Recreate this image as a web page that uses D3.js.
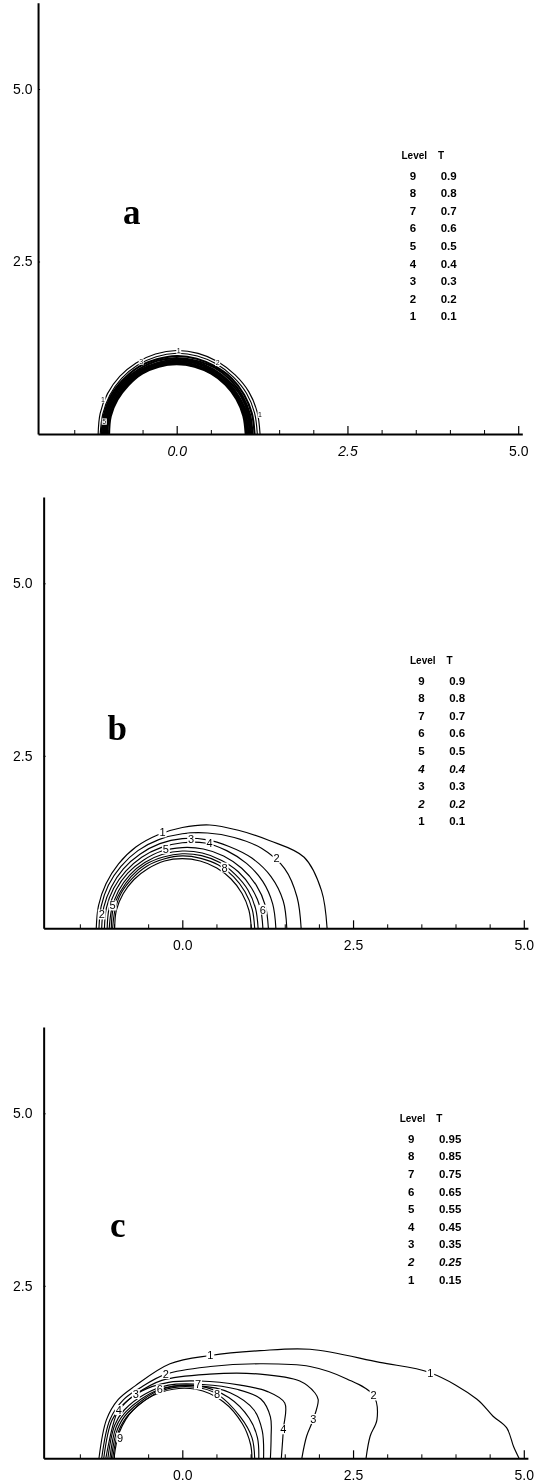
<!DOCTYPE html>
<html>
<head>
<meta charset="utf-8">
<script src="https://cdnjs.cloudflare.com/ajax/libs/d3/7.8.5/d3.min.js"></script>
<style>
  body { margin: 0; background: #ffffff; }
  svg { display: block; }
</style>
</head>
<body>
<div id="chart"></div>
<script>
// ---- data ----

// contour levels, 1 is the outermost
const levels = [1, 2, 3, 4, 5, 6, 7, 8, 9]
const tValuesA = [0.1, 0.2, 0.3, 0.4, 0.5, 0.6, 0.7, 0.8, 0.9]
const tValuesB = [0.1, 0.2, 0.3, 0.4, 0.5, 0.6, 0.7, 0.8, 0.9]
const tValuesC = [0.15, 0.25, 0.35, 0.45, 0.55, 0.65, 0.75, 0.85, 0.95]

// panels a and b: near circular contours, radius read at these angles (deg)
const angles = [0, 15, 30, 45, 60, 75, 90, 105, 120, 135, 150, 165, 180]

const radiiA = [
  [1.22, 1.22, 1.22, 1.21, 1.21, 1.21, 1.21, 1.20, 1.19, 1.18, 1.17, 1.16, 1.15],
  [1.18, 1.18, 1.18, 1.17, 1.17, 1.17, 1.17, 1.16, 1.15, 1.14, 1.13, 1.12, 1.12],
  [1.14, 1.14, 1.14, 1.14, 1.13, 1.13, 1.13, 1.12, 1.12, 1.11, 1.11, 1.10, 1.10],
  [1.11, 1.11, 1.11, 1.11, 1.11, 1.10, 1.10, 1.10, 1.09, 1.09, 1.09, 1.08, 1.08],
  [1.09, 1.09, 1.09, 1.08, 1.08, 1.08, 1.08, 1.07, 1.07, 1.07, 1.07, 1.06, 1.06],
  [1.07, 1.07, 1.06, 1.06, 1.06, 1.06, 1.06, 1.05, 1.05, 1.05, 1.05, 1.05, 1.04],
  [1.05, 1.05, 1.05, 1.04, 1.04, 1.04, 1.04, 1.04, 1.04, 1.03, 1.03, 1.03, 1.03],
  [1.03, 1.03, 1.03, 1.03, 1.02, 1.02, 1.02, 1.02, 1.02, 1.02, 1.02, 1.02, 1.02],
  [1.01, 1.01, 1.01, 1.01, 1.01, 1.01, 1.01, 1.01, 1.01, 1.00, 1.00, 1.00, 0.99]
]

const radiiB = [
  [2.12, 2.11, 2.06, 1.80, 1.64, 1.55, 1.46, 1.40, 1.36, 1.32, 1.29, 1.27, 1.26],
  [1.74, 1.74, 1.73, 1.64, 1.52, 1.43, 1.37, 1.33, 1.30, 1.27, 1.25, 1.23, 1.22],
  [1.53, 1.53, 1.50, 1.44, 1.37, 1.33, 1.30, 1.27, 1.24, 1.22, 1.20, 1.19, 1.18],
  [1.37, 1.37, 1.36, 1.33, 1.30, 1.28, 1.24, 1.21, 1.19, 1.17, 1.16, 1.15, 1.14],
  [1.26, 1.26, 1.25, 1.23, 1.21, 1.19, 1.17, 1.16, 1.14, 1.13, 1.12, 1.11, 1.10],
  [1.18, 1.18, 1.17, 1.16, 1.14, 1.13, 1.12, 1.11, 1.10, 1.09, 1.08, 1.07, 1.07],
  [1.11, 1.11, 1.11, 1.10, 1.10, 1.09, 1.08, 1.07, 1.07, 1.06, 1.05, 1.05, 1.04],
  [1.06, 1.06, 1.06, 1.06, 1.06, 1.05, 1.05, 1.04, 1.04, 1.03, 1.03, 1.02, 1.02],
  [1.01, 1.01, 1.01, 1.01, 1.01, 1.01, 1.01, 1.01, 1.00, 1.00, 1.00, 1.00, 0.99]
]

// panel c: contours as [x, y] points, left foot to right foot
const contoursC = [
  [[-1.22, 0], [-1.11, 0.56], [-0.94, 0.85], [-0.69, 1.05], [-0.18, 1.37], [0.41, 1.49], [1.14, 1.56], [1.87, 1.58],
   [2.89, 1.39], [3.63, 1.24], [4.31, 0.86], [4.55, 0.61], [4.75, 0.44], [4.85, 0.17], [4.93, 0]],
  [[-1.18, 0], [-1.06, 0.56], [-0.86, 0.85], [-0.62, 1.02], [-0.24, 1.22], [0.41, 1.33], [1.14, 1.37], [1.87, 1.33],
   [2.41, 1.15], [2.80, 0.91], [2.85, 0.56], [2.75, 0.32], [2.69, 0]],
  [[-1.15, 0], [-1.03, 0.55], [-0.84, 0.80], [-0.68, 0.93], [-0.30, 1.13], [0.40, 1.22], [1.14, 1.22], [1.72, 1.12],
   [1.94, 0.95], [1.99, 0.85], [1.92, 0.57], [1.82, 0.32], [1.75, 0]],
  [[-1.12, 0], [-1.01, 0.50], [-0.93, 0.70], [-0.60, 0.97], [-0.20, 1.10], [0.26, 1.12], [0.85, 1.06], [1.24, 0.97],
   [1.50, 0.80], [1.48, 0.42], [1.45, 0]],
  [[-1.09, 0], [-0.99, 0.48], [-0.85, 0.70], [-0.55, 0.93], [-0.20, 1.06], [0.30, 1.07], [0.80, 1.00], [1.15, 0.86],
   [1.29, 0.60], [1.30, 0.30], [1.29, 0]],
  [[-1.06, 0], [-0.97, 0.45], [-0.82, 0.68], [-0.33, 1.00], [0.25, 1.05], [0.70, 0.95], [1.05, 0.70], [1.17, 0.40], [1.19, 0]],
  [[-1.04, 0], [-0.95, 0.42], [-0.80, 0.66], [-0.30, 1.00], [0.23, 1.05], [0.68, 0.88], [0.98, 0.58], [1.10, 0.30], [1.12, 0]],
  [[-1.02, 0], [-0.93, 0.40], [-0.78, 0.64], [-0.30, 0.98], [0.20, 1.03], [0.51, 0.93], [0.85, 0.60], [1.02, 0.30], [1.06, 0]],
  [[-1.00, 0], [-0.92, 0.38], [-0.72, 0.70], [-0.30, 0.96], [0.20, 1.00], [0.60, 0.82], [0.88, 0.50], [1.00, 0.20], [1.02, 0]]
]

// inline contour labels: [level, x, y]
const labelsA = [[1, -1.08, 0.50], [5, -1.06, 0.18], [3, -0.52, 1.05], [1, 0.03, 1.21], [2, 0.60, 1.03], [1, 1.22, 0.28]]
const labelsB = [[1, -0.29, 1.39], [3, 0.13, 1.30], [4, 0.40, 1.23], [5, -0.24, 1.15], [2, 1.38, 1.02],
                 [8, 0.62, 0.88], [6, 1.18, 0.27], [2, -1.18, 0.20], [5, -1.02, 0.33]]
const labelsC = [[1, 0.41, 1.49], [1, 3.63, 1.24], [2, -0.24, 1.22], [2, 2.80, 0.91], [3, 1.92, 0.57], [4, 1.48, 0.42],
                 [3, -0.68, 0.93], [4, -0.93, 0.70], [6, -0.33, 1.00], [7, 0.23, 1.07], [8, 0.51, 0.93], [9, -0.91, 0.30]]

// axis ticks
const xMajor = [0, 2.5, 5]
const xMinor = [-1.5, -1, -0.5, 0.5, 1, 1.5, 2, 3, 3.5, 4, 4.5]
const yMajor = [2.5, 5]

// ---- layout ----
const W = 545, H = 1483
const ux = 68.3, uy = 69
const xDomain = [-2.03, 5.06], yDomain = [0, 6.25]
const font = "'Liberation Sans', Arial, sans-serif"

const panels = [
  {key: 'a', ox: 176.7, oy: 434, radii: radiiA, labels: labelsA, tValues: tValuesA, fmt: '.1f',
   legend: [401.5, 155], letter: [123, 224], labelSize: 7, strokeW: 2.1, italicRows: [], italicX: [0, 2.5]},
  {key: 'b', ox: 182.3, oy: 928.3, radii: radiiB, labels: labelsB, tValues: tValuesB, fmt: '.1f',
   legend: [410, 660], letter: [107.5, 740], labelSize: 11, strokeW: 1.15, italicRows: [4, 2], italicX: []},
  {key: 'c', ox: 182.3, oy: 1458.3, contours: contoursC, labels: labelsC, tValues: tValuesC, fmt: '.2f',
   legend: [399.7, 1118.3], letter: [110, 1237], labelSize: 11, strokeW: 1.15, italicRows: [2], italicX: []}
]

// black and white print: grayscale filter keeps small text free of colour fringes
let svg = d3.select('#chart').append('svg')
  .attr('width', W)
  .attr('height', H)
  .style('background-color', '#ffffff')
  .style('filter', 'grayscale(1)')

panels.forEach(function(p) {
  let x = d3.scaleLinear().domain(xDomain).range([p.ox + xDomain[0] * ux, p.ox + xDomain[1] * ux])
  let y = d3.scaleLinear().domain(yDomain).range([p.oy, p.oy - yDomain[1] * uy])
  let g = svg.append('g').attr('class', 'panel panel-' + p.key)

  // contour lines
  let lines = p.radii
    ? p.radii.map(function(r) {
        return angles.map(function(a, i) {
          let t = a * Math.PI / 180
          return [r[i] * Math.cos(t), r[i] * Math.sin(t)]
        })
      })
    : p.contours

  let line = d3.line()
    .x(function(d) { return x(d[0]) })
    .y(function(d) { return y(d[1]) })
    .curve(d3.curveCatmullRom.alpha(0.5))

  // outer two levels stay thin, the packed inner ones get the panel's width
  g.selectAll('.contour')
    .data(lines)
    .enter().append('path')
    .attr('class', 'contour')
    .attr('d', line)
    .attr('fill', 'none')
    .attr('stroke', '#000')
    .attr('stroke-width', function(d, i) { return i < 2 ? 1.15 : p.strokeW })

  // level numbers sitting on the lines, each on a small white patch
  let clabel = g.selectAll('.clabel')
    .data(p.labels)
    .enter().append('g')
    .attr('class', 'clabel')
    .attr('transform', function(d) { return 'translate(' + x(d[1]) + ',' + y(d[2]) + ')' })

  clabel.append('rect')
    .attr('x', -p.labelSize * 0.36)
    .attr('y', -p.labelSize * 0.45)
    .attr('width', p.labelSize * 0.72)
    .attr('height', p.labelSize * 0.9)
    .attr('fill', '#fff')

  clabel.append('text')
    .attr('text-anchor', 'middle')
    .attr('dy', '0.36em')
    .attr('font-family', font)
    .attr('font-size', p.labelSize)
    .attr('fill', '#000')
    .text(function(d) { return d[0] })

  // x axis: small ticks every 0.5, long ones at the labels, all pointing up
  g.append('g')
    .attr('transform', 'translate(0,' + p.oy + ')')
    .call(d3.axisBottom(x).tickValues(xMinor).tickSize(-4).tickSizeOuter(0).tickFormat(''))
    .call(function(s) { s.select('.domain').remove() })

  let xAxis = g.append('g')
    .attr('transform', 'translate(0,' + p.oy + ')')
    .call(d3.axisBottom(x).tickValues(xMajor).tickSize(-8).tickSizeOuter(0).tickPadding(11.7)
      .tickFormat(d3.format('.1f')))
  xAxis.select('.domain').attr('stroke-width', 2)
  xAxis.selectAll('.tick line').attr('stroke-width', 1.2)
  xAxis.selectAll('text')
    .attr('font-family', font)
    .attr('font-size', 14)
    .attr('fill', '#000')
    .style('font-style', function(d) { return p.italicX.indexOf(d) >= 0 ? 'italic' : 'normal' })

  // y axis
  let axisX = x(xDomain[0])
  let yAxis = g.append('g')
    .attr('transform', 'translate(' + axisX + ',0)')
    .call(d3.axisLeft(y).tickValues(yMajor).tickSize(-2).tickSizeOuter(0).tickPadding(axisX - 32.5)
      .tickFormat(d3.format('.1f')))
  yAxis.select('.domain').attr('stroke-width', 2)
  yAxis.selectAll('text')
    .attr('font-family', font)
    .attr('font-size', 14)
    .attr('fill', '#000')

  // panel letter
  g.append('text')
    .attr('x', p.letter[0])
    .attr('y', p.letter[1])
    .attr('font-family', "'Liberation Serif', 'Times New Roman', serif")
    .attr('font-weight', 'bold')
    .attr('font-size', 35)
    .text(p.key)

  // legend table: Level / T
  let lx = p.legend[0], ly = p.legend[1]
  let legend = g.append('g').attr('class', 'legend')
  legend.append('text')
    .attr('x', lx).attr('y', ly)
    .attr('dominant-baseline', 'central')
    .attr('font-family', font).attr('font-weight', 'bold').attr('font-size', 10)
    .text('Level')
  legend.append('text')
    .attr('x', lx + 36.5).attr('y', ly)
    .attr('dominant-baseline', 'central')
    .attr('font-family', font).attr('font-weight', 'bold').attr('font-size', 10)
    .text('T')

  let rows = levels.slice().reverse()
  let fmt = d3.format(p.fmt)
  let row = legend.selectAll('.row')
    .data(rows)
    .enter().append('g')
    .attr('class', 'row')
    .attr('transform', function(d, i) { return 'translate(0,' + (ly + 20.5 + i * 17.6) + ')' })
    .style('font-style', function(d) { return p.italicRows.indexOf(d) >= 0 ? 'italic' : 'normal' })

  row.append('text')
    .attr('x', lx + 11.5)
    .attr('text-anchor', 'middle')
    .attr('dominant-baseline', 'central')
    .attr('font-family', font).attr('font-weight', 'bold').attr('font-size', 11.5)
    .text(function(d) { return d })

  row.append('text')
    .attr('x', lx + 39.2)
    .attr('dominant-baseline', 'central')
    .attr('font-family', font).attr('font-weight', 'bold').attr('font-size', 11.5)
    .text(function(d) { return fmt(p.tValues[d - 1]) })
})
</script>
</body>
</html>
